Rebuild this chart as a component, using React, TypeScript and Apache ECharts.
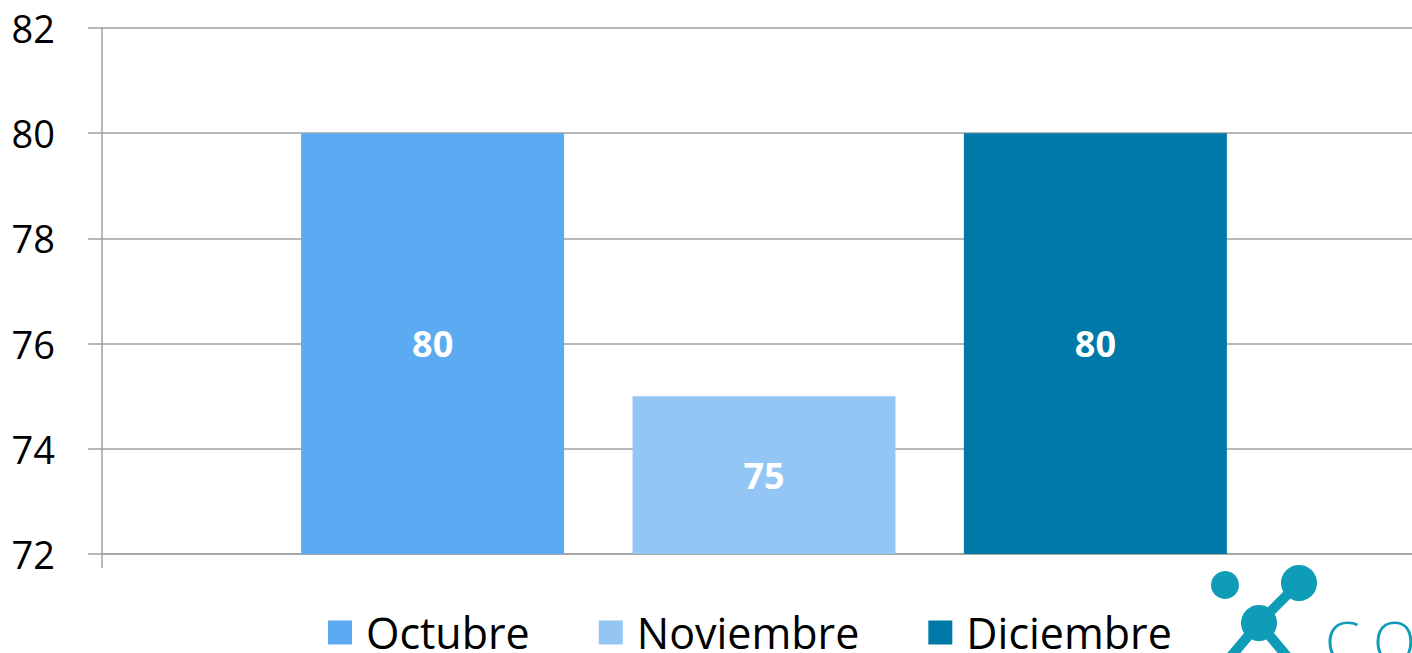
import React, { useEffect, useRef } from "react";
import * as echarts from "echarts";

const categories = [""];
const seriesNames = ["Octubre", "Noviembre", "Diciembre"];
const seriesValues = [80, 75, 80];
const seriesColors = ["#5BAAF2", "#94C6F5", "#0079A8"];
const yTicks = { min: 72, max: 82, interval: 2 };

export default function App() {
  const ref = useRef<HTMLDivElement>(null);
  useEffect(() => {
    if (!ref.current) return;
    const chart = echarts.init(ref.current, null, { renderer: "svg" });
    const gray = "#A0A0A0";
    const teal = "#0E9CB6";
    chart.setOption({
      animation: false,
      backgroundColor: "#ffffff",
      grid: { left: 102, top: 28, bottom: 99, right: 4, containLabel: false },
      legend: {
        left: 323,
        top: 606,
        itemWidth: 24,
        itemHeight: 24,
        itemGap: 69,
        icon: "rect",
        data: seriesNames,
        textStyle: { fontFamily: "Open Sans", fontSize: 43, color: "#000", padding: [0, 0, 0, 9] },
      },
      xAxis: {
        type: "category",
        data: categories,
        axisLine: { show: true, lineStyle: { color: gray, width: 1.5 } },
        axisTick: { show: true, length: 14, lineStyle: { color: gray, width: 1.5 } },
        axisLabel: { show: false },
        splitLine: { show: false },
      },
      yAxis: {
        type: "value",
        min: yTicks.min,
        max: yTicks.max,
        interval: yTicks.interval,
        axisLine: { show: true, lineStyle: { color: gray, width: 1.5 } },
        axisTick: { show: true, length: 14, lineStyle: { color: gray, width: 1.5 } },
        axisLabel: { margin: 47, fontFamily: "Open Sans", fontSize: 38, color: "#000" },
        splitLine: { show: true, lineStyle: { color: gray, width: 1.5 } },
      },
      series: seriesNames.map((name, i) => ({
        name,
        type: "bar",
        data: [seriesValues[i]],
        barWidth: 263,
        barGap: "26%",
        itemStyle: { color: seriesColors[i] },
        label: {
          show: true,
          position: "inside",
          color: "#fff",
          fontFamily: "Open Sans",
          fontWeight: "bold",
          fontSize: 36,
        },
      })),
      graphic: [
        { type: "line", shape: { x1: 1259, y1: 623, x2: 1299, y2: 583 }, style: { stroke: teal, lineWidth: 10 } },
        { type: "line", shape: { x1: 1259, y1: 623, x2: 1228, y2: 660 }, style: { stroke: teal, lineWidth: 10 } },
        { type: "line", shape: { x1: 1259, y1: 623, x2: 1290, y2: 660 }, style: { stroke: teal, lineWidth: 10 } },
        { type: "circle", shape: { cx: 1225, cy: 585, r: 14 }, style: { fill: teal } },
        { type: "circle", shape: { cx: 1299, cy: 583, r: 18 }, style: { fill: teal } },
        { type: "circle", shape: { cx: 1259, cy: 623, r: 18 }, style: { fill: teal } },
        {
          type: "text",
          x: 1325,
          y: 612,
          style: { text: "C.O", fill: teal, fontFamily: "Open Sans", fontWeight: 300, fontSize: 56 },
        },
      ],
    });
    return () => chart.dispose();
  }, []);
  return (
    <div
      ref={ref}
      style={{ position: "fixed", left: 0, top: 0, width: 1430, height: 653 }}
    />
  );
}
